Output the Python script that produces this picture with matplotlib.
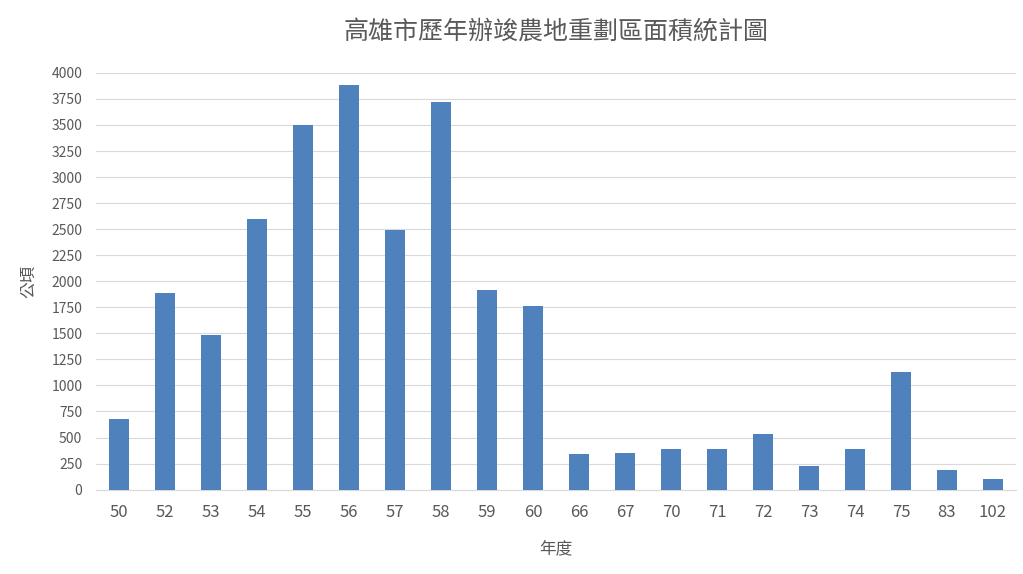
import matplotlib.pyplot as plt

plt.rcParams['font.family'] = ['Noto Sans CJK TC', 'DejaVu Sans']

years = ["50", "52", "53", "54", "55", "56", "57", "58", "59", "60",
         "66", "67", "70", "71", "72", "73", "74", "75", "83", "102"]
areas = [681, 1890, 1487, 2600, 3501, 3885, 2494, 3722, 1918, 1765,
         345, 355, 393, 393, 537, 230, 393, 1132, 192, 105]

fig, ax = plt.subplots(figsize=(10.23, 5.74), dpi=100)
fig.subplots_adjust(left=0.094, right=0.993, top=0.873, bottom=0.147)

x = range(len(years))
ax.bar(x, areas, width=0.42, color="#4f81bd", zorder=3)
ax.set_xticks(list(x))
ax.set_xticklabels(years, fontsize=12, color="#595959")
ax.set_xlim(-0.5, len(years) - 0.5)
ax.set_ylim(0, 4000)
ax.set_yticks(range(0, 4001, 250))
ax.tick_params(axis="y", labelsize=10, colors="#595959", length=0, pad=10)
ax.tick_params(axis="x", length=0, pad=10)
ax.grid(axis="y", color="#d9d9d9", linewidth=0.8, zorder=0)
for s in ["top", "right", "left"]:
    ax.spines[s].set_visible(False)
ax.spines["bottom"].set_color("#d9d9d9")

ax.set_title("高雄市歷年辦竣農地重劃區面積統計圖", fontsize=18, color="#595959", pad=24)
ax.set_xlabel("年度", fontsize=12, color="#595959", labelpad=14)
ax.set_ylabel("公頃", fontsize=12, color="#595959", labelpad=10)

plt.savefig("out.png", dpi=100)
